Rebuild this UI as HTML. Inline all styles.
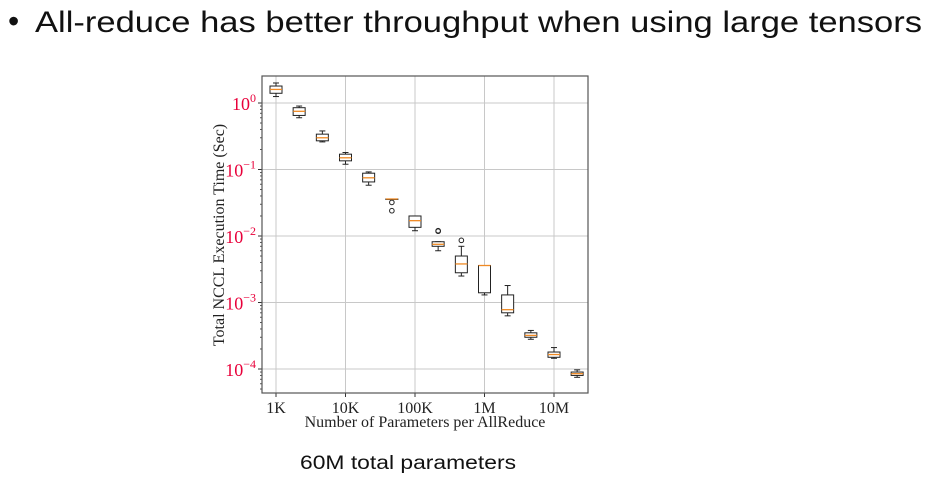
<!DOCTYPE html>
<html><head><meta charset="utf-8"><style>
body{margin:0;background:#fff;width:929px;height:481px;overflow:hidden}
svg{display:block}
</style></head><body>
<svg id="c" width="929" height="481" xmlns="http://www.w3.org/2000/svg">
<text x="8" y="32" font-family="Liberation Sans, sans-serif" font-size="32" fill="#111">•</text>
<text x="35" y="32" font-family="Liberation Sans, sans-serif" font-size="30" fill="#111" textLength="887" lengthAdjust="spacingAndGlyphs">All-reduce has better throughput when using large tensors</text>
<text x="300" y="469" font-family="Liberation Sans, sans-serif" font-size="19" fill="#111" textLength="216" lengthAdjust="spacingAndGlyphs">60M total parameters</text>
<g id="plot"></g>
</svg>
<script>
const xLogs=[3,3.333,3.667,4,4.333,4.667,5,5.333,5.667,6,6.333,6.667,7,7.333];
const medians=[1.6,0.75,0.3,0.15,0.075,0.036,0.017,0.0075,0.0038,0.0036,0.00078,0.00032,0.000165,0.000085];
const q1s=[1.4,0.65,0.27,0.135,0.065,0.036,0.0135,0.007,0.0028,0.0014,0.0007,0.0003,0.00015,0.00008];
const q3s=[1.8,0.85,0.34,0.17,0.088,0.036,0.02,0.0082,0.005,0.0036,0.0013,0.00035,0.00018,0.00009];
const wlo=[1.25,0.6,0.26,0.12,0.058,0.036,0.012,0.006,0.0025,0.0013,0.00063,0.00028,0.000145,0.000075];
const whi=[2.0,0.9,0.38,0.18,0.092,0.036,0.02,0.0082,0.007,0.0036,0.0018,0.00038,0.00021,0.000097];
const outliers=[[],[],[],[],[],[0.032,0.024],[],[0.012,0.0118],[0.0086],[],[],[],[],[]];
const xTicks=["1K","10K","100K","1M","10M"];
const yExps=[0,-1,-2,-3,-4];
const NS="http://www.w3.org/2000/svg";
const L=262,R=588,T=76,B=393;
const X=lg=>276+(lg-3)*69.5;
const Y=v=>103-Math.log10(v)*66.5;
const g=document.getElementById('plot');
function el(t,a,p){const e=document.createElementNS(NS,t);for(const k in a)e.setAttribute(k,a[k]);(p||g).appendChild(e);return e;}
xTicks.forEach((t,i)=>{
  const x=X(3+i);
  const l=el('line',{x1:x,x2:x,y1:T,y2:B,stroke:'#c8c8c8','stroke-width':1});
  
  
  el('line',{x1:x,x2:x,y1:B,y2:B+4,stroke:'#333'});
  const tx=el('text',{x:x,y:B+20,'text-anchor':'middle','font-family':'Liberation Serif, serif','font-size':16,fill:'#222'});
  tx.textContent=t;
  
  
});
yExps.forEach(e=>{
  const y=Y(Math.pow(10,e));
  const l=el('line',{x1:L,x2:R,y1:y,y2:y,stroke:'#c8c8c8','stroke-width':1});
  
  
  el('line',{x1:L-4,x2:L,y1:y,y2:y,stroke:'#333'});
  const tx=el('text',{x:L-6,y:y+7,'text-anchor':'end','font-family':'Liberation Serif, serif','font-size':18,fill:'#e8003a'});
  
  
  const a=el('tspan',{},tx);a.textContent='10';
  const b=el('tspan',{dy:-8,'font-size':12},tx);b.textContent=e===0?'0':'\u2212'+(-e);
  for(let m=2;m<10;m++){const ym=Y(m*Math.pow(10,e-1));if(ym>T&&ym<B)el('line',{x1:L-2,x2:L,y1:ym,y2:ym,stroke:'#555'});}
});
const fr=el('rect',{x:L,y:T,width:R-L,height:B-T,fill:'none',stroke:'#555','stroke-width':1.2});


xLogs.forEach((lg,i)=>{
  const x=X(lg),w=12;
  const bg=el('g',{});
  
  
  el('line',{x1:x,x2:x,y1:Y(whi[i]),y2:Y(q3s[i]),stroke:'#222'},bg);
  el('line',{x1:x,x2:x,y1:Y(q1s[i]),y2:Y(wlo[i]),stroke:'#222'},bg);
  el('line',{x1:x-w/4,x2:x+w/4,y1:Y(whi[i]),y2:Y(whi[i]),stroke:'#222'},bg);
  el('line',{x1:x-w/4,x2:x+w/4,y1:Y(wlo[i]),y2:Y(wlo[i]),stroke:'#222'},bg);
  el('rect',{x:x-w/2,y:Y(q3s[i]),width:w,height:Math.max(0.5,Y(q1s[i])-Y(q3s[i])),fill:'#fff',stroke:'#222'},bg);
  el('line',{x1:x-w/2,x2:x+w/2,y1:Y(medians[i]),y2:Y(medians[i]),stroke:'#f08a24','stroke-width':1.3},bg);
  outliers[i].forEach(o=>{el('circle',{cx:x,cy:Y(o),r:2.3,fill:'none',stroke:'#222'},bg);});
});
const yl=el('text',{x:0,y:0,transform:'translate(224,235) rotate(-90)','text-anchor':'middle','font-family':'Liberation Serif, serif','font-size':16,fill:'#222'});
yl.textContent='Total NCCL Execution Time (Sec)';


const xl=el('text',{x:425,y:427,'text-anchor':'middle','font-family':'Liberation Serif, serif','font-size':16,fill:'#222'});
xl.textContent='Number of Parameters per AllReduce';


</script>
</body></html>
